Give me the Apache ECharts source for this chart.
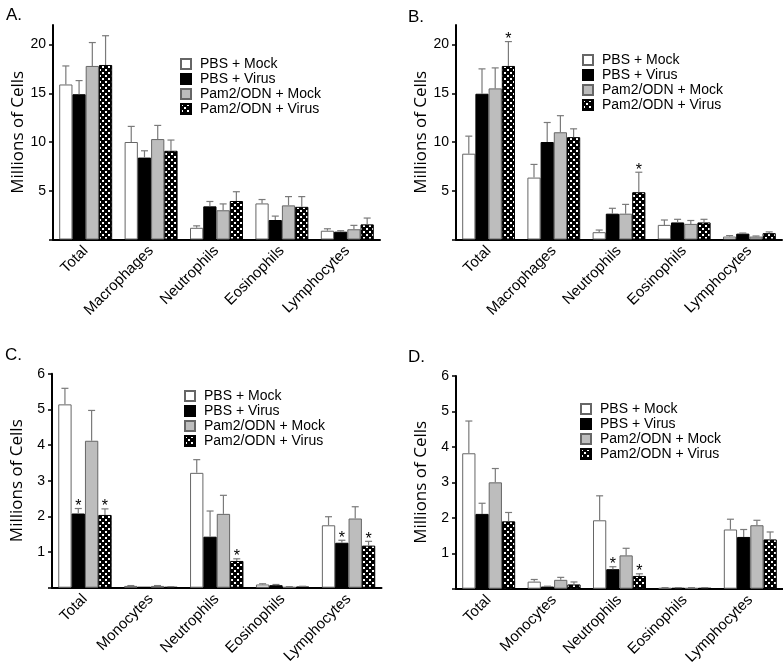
<!DOCTYPE html>
<html>
<head>
<meta charset="utf-8">
<script src="https://cdn.jsdelivr.net/npm/echarts@6/dist/echarts.min.js"></script>
<style>html,body{margin:0;padding:0;background:#fff}#c{width:783px;height:668px}</style>
</head>
<body>
<div id="c"></div>
<script>
// ---------- DATA ----------
const seriesNames = ['PBS + Mock', 'PBS + Virus', 'Pam2/ODN + Mock', 'Pam2/ODN + Virus'];
const categoriesAB = ['Total', 'Macrophages', 'Neutrophils', 'Eosinophils', 'Lymphocytes'];
const categoriesCD = ['Total', 'Monocytes', 'Neutrophils', 'Eosinophils', 'Lymphocytes'];
const panelLabels = ['A.', 'B.', 'C.', 'D.'];
const yTitle = 'Millions of Cells';
const yTicksAB = [0, 5, 10, 15, 20];
const yLabelsAB = [5, 10, 15, 20];
const yTicksCD = [0, 1, 2, 3, 4, 5, 6];
const yLabelsCD = [1, 2, 3, 4, 5, 6];

// Panel A
const aPbsMock = [15.9, 10.0, 1.2, 3.7, 0.9];
const aPbsVirus = [14.9, 8.4, 3.4, 2.0, 0.8];
const aPamMock = [17.8, 10.3, 3.0, 3.5, 1.05];
const aPamVirus = [17.9, 9.1, 3.95, 3.35, 1.55];
const aPbsMockErr = [17.8, 11.6, 1.4, 4.1, 1.1];
const aPbsVirusErr = [16.3, 9.1, 3.9, 2.4, 0.9];
const aPamMockErr = [20.2, 11.7, 3.65, 4.4, 1.45];
const aPamVirusErr = [20.9, 10.2, 4.9, 4.4, 2.2];
const aStars = [];

// Panel B
const bPbsMock = [8.8, 6.35, 0.75, 1.5, 0.3];
const bPbsVirus = [14.95, 10.0, 2.65, 1.75, 0.6];
const bPamMock = [15.5, 11.0, 2.65, 1.6, 0.3];
const bPamVirus = [17.8, 10.5, 4.85, 1.75, 0.65];
const bPbsMockErr = [10.6, 7.7, 0.97, 2.0, 0.4];
const bPbsVirusErr = [17.5, 12.0, 3.2, 2.07, 0.66];
const bPamMockErr = [17.6, 12.7, 3.6, 1.95, 0.36];
const bPamVirusErr = [20.3, 11.35, 6.9, 2.07, 0.78];
const bStars = [[0, 3], [2, 3]]; // [category, series]

// Panel C
const cPbsMock = [5.14, 0.05, 3.22, 0.09, 1.75];
const cPbsVirus = [2.08, 0.02, 1.43, 0.07, 1.26];
const cPamMock = [4.12, 0.05, 2.07, 0.02, 1.94];
const cPamVirus = [2.04, 0.02, 0.75, 0.03, 1.18];
const cPbsMockErr = [5.59, 0.06, 3.59, 0.11, 1.99];
const cPbsVirusErr = [2.22, 0.02, 2.15, 0.09, 1.33];
const cPamMockErr = [4.97, 0.06, 2.59, 0.03, 2.27];
const cPamVirusErr = [2.21, 0.03, 0.81, 0.04, 1.30];
const cStars = [[0, 1], [0, 3], [2, 3], [4, 1], [4, 3]];

// Panel D
const dPbsMock = [3.82, 0.2, 1.93, 0.02, 1.67];
const dPbsVirus = [2.11, 0.06, 0.55, 0.02, 1.46];
const dPamMock = [3.0, 0.25, 0.94, 0.02, 1.79];
const dPamVirus = [1.9, 0.12, 0.36, 0.02, 1.39];
const dPbsMockErr = [4.73, 0.26, 2.62, 0.03, 1.96];
const dPbsVirusErr = [2.41, 0.07, 0.62, 0.03, 1.67];
const dPamMockErr = [3.39, 0.32, 1.14, 0.03, 1.93];
const dPamVirusErr = [2.15, 0.19, 0.42, 0.03, 1.60];
const dStars = [[2, 1], [2, 3]];

// ---------- STYLE / LAYOUT ----------
function makePattern() {
  const cv = document.createElement('canvas');
  cv.width = 6; cv.height = 6;
  const ctx = cv.getContext('2d');
  ctx.fillStyle = '#000'; ctx.fillRect(0, 0, 6, 6);
  ctx.fillStyle = '#fff';
  ctx.fillRect(0, 0, 2, 2);
  ctx.fillRect(3, 3, 2, 2);
  return cv;
}
const pattern = makePattern();
const itemStyles = [
  { color: '#ffffff', borderColor: '#666', borderWidth: 1 },
  { color: '#000000', borderColor: '#000', borderWidth: 1 },
  { color: '#bdbdbd', borderColor: '#666', borderWidth: 1 },
  { color: { image: pattern, repeat: 'repeat' }, borderColor: '#000', borderWidth: 1 }
];
const CAT_GAP = 0.19;

const panels = [
  { cats: categoriesAB, vals: [aPbsMock, aPbsVirus, aPamMock, aPamVirus], errs: [aPbsMockErr, aPbsVirusErr, aPamMockErr, aPamVirusErr], stars: aStars, max: 22, ticks: yTicksAB, labels: yLabelsAB,
    grid: { left: 53, top: 25, width: 327, height: 214.5 }, legend: { left: 180, top: 57 }, label: { left: 1, top: 2 } },
  { cats: categoriesAB, vals: [bPbsMock, bPbsVirus, bPamMock, bPamVirus], errs: [bPbsMockErr, bPbsVirusErr, bPamMockErr, bPamVirusErr], stars: bStars, max: 22, ticks: yTicksAB, labels: yLabelsAB,
    grid: { left: 456, top: 25, width: 326, height: 214.5 }, legend: { left: 582, top: 53 }, label: { left: 403, top: 4 } },
  { cats: categoriesCD, vals: [cPbsMock, cPbsVirus, cPamMock, cPamVirus], errs: [cPbsMockErr, cPbsVirusErr, cPamMockErr, cPamVirusErr], stars: cStars, max: 6, ticks: yTicksCD, labels: yLabelsCD,
    grid: { left: 52, top: 373.7, width: 329.5, height: 214 }, legend: { left: 184, top: 389 }, label: { left: 0, top: 342 } },
  { cats: categoriesCD, vals: [dPbsMock, dPbsVirus, dPamMock, dPamVirus], errs: [dPbsMockErr, dPbsVirusErr, dPamMockErr, dPamVirusErr], stars: dStars, max: 6, ticks: yTicksCD, labels: yLabelsCD,
    grid: { left: 456, top: 376, width: 327, height: 212.7 }, legend: { left: 580, top: 402 }, label: { left: 403, top: 344 } }
];

const grids = [], xAxes = [], yAxes = [], series = [], legends = [], titles = [];
panels.forEach((p, pi) => {
  grids.push(Object.assign({ containLabel: false }, p.grid));
  xAxes.push({
    type: 'category', gridIndex: pi, data: p.cats,
    axisLine: { lineStyle: { color: '#000', width: 2 } },
    axisTick: { alignWithLabel: true, length: 4, lineStyle: { color: '#000', width: 2 } },
    axisLabel: { rotate: 45, interval: 0, margin: 9, fontSize: 15, color: '#000', fontFamily: 'Liberation Sans, Arial, sans-serif' },
    splitLine: { show: false }
  });
  yAxes.push({
    type: 'value', gridIndex: pi, min: 0, max: p.max,
    name: yTitle, nameLocation: 'middle', nameGap: 26,
    nameTextStyle: { fontSize: 17, color: '#000', fontFamily: 'Open Sans, sans-serif' },
    axisLine: { show: true, lineStyle: { color: '#000', width: 2 } },
    axisTick: { show: true, length: 4, customValues: p.ticks, lineStyle: { color: '#000', width: 1.5 } },
    axisLabel: { customValues: p.labels, margin: 7, fontSize: 14, color: '#000', fontFamily: 'Liberation Sans, Arial, sans-serif' },
    splitLine: { show: false }
  });
  seriesNames.forEach((name, si) => {
    series.push({
      type: 'bar', name: name, xAxisIndex: pi, yAxisIndex: pi,
      data: p.vals[si], barGap: '0%', barCategoryGap: (CAT_GAP * 100) + '%',
      itemStyle: itemStyles[si], emphasis: { disabled: true }, silent: true
    });
  });
  const errData = [];
  p.cats.forEach((c, ci) => {
    for (let si = 0; si < 4; si++) {
      const star = p.stars.some(s => s[0] === ci && s[1] === si) ? 1 : 0;
      errData.push([ci, si, p.vals[si][ci], p.errs[si][ci], star]);
    }
  });
  series.push({
    type: 'custom', xAxisIndex: pi, yAxisIndex: pi, silent: true, z: 5,
    encode: { x: 0, y: 3 },
    data: errData,
    renderItem: function (params, api) {
      const ci = api.value(0), si = api.value(1), v = api.value(2), e = api.value(3), st = api.value(4);
      const base = api.coord([ci, v]);
      const topPt = api.coord([ci, e]);
      const band = api.size([1, 0])[0];
      const bw = band * (1 - CAT_GAP) / 4;
      const x = base[0] + (si - 1.5) * bw;
      const children = [];
      const ls = { stroke: '#7a7a7a', lineWidth: 1.2 };
      if (e > v) {
        children.push({ type: 'line', shape: { x1: x, y1: base[1], x2: x, y2: topPt[1] }, style: ls });
        children.push({ type: 'line', shape: { x1: x - 3.5, y1: topPt[1], x2: x + 3.5, y2: topPt[1] }, style: ls });
      }
      if (st) {
        children.push({ type: 'text', x: x, y: topPt[1] - 2, style: { text: '*', fill: '#000', fontSize: 16, fontFamily: 'Liberation Sans, Arial, sans-serif', align: 'center', verticalAlign: 'middle' } });
      }
      return { type: 'group', children: children };
    }
  });
  legends.push({
    left: p.legend.left, top: p.legend.top, orient: 'vertical', data: seriesNames,
    padding: 0,
    icon: 'rect', itemWidth: 10, itemHeight: 10, itemGap: 1,
    selectedMode: false,
    textStyle: { fontSize: 14, color: '#000', fontFamily: 'Liberation Sans, Arial, sans-serif', lineHeight: 14, padding: [0, 0, 0, 4] }
  });
  titles.push({ text: panelLabels[pi], left: p.label.left, top: p.label.top, textStyle: { fontSize: 17, fontWeight: 'normal', color: '#000', fontFamily: 'Liberation Sans, Arial, sans-serif' } });
});

const chart = echarts.init(document.getElementById('c'), null, { renderer: 'canvas' });
chart.setOption({
  animation: false,
  backgroundColor: '#fff',
  title: titles,
  grid: grids,
  xAxis: xAxes,
  yAxis: yAxes,
  legend: legends,
  series: series
});
</script>
</body>
</html>
